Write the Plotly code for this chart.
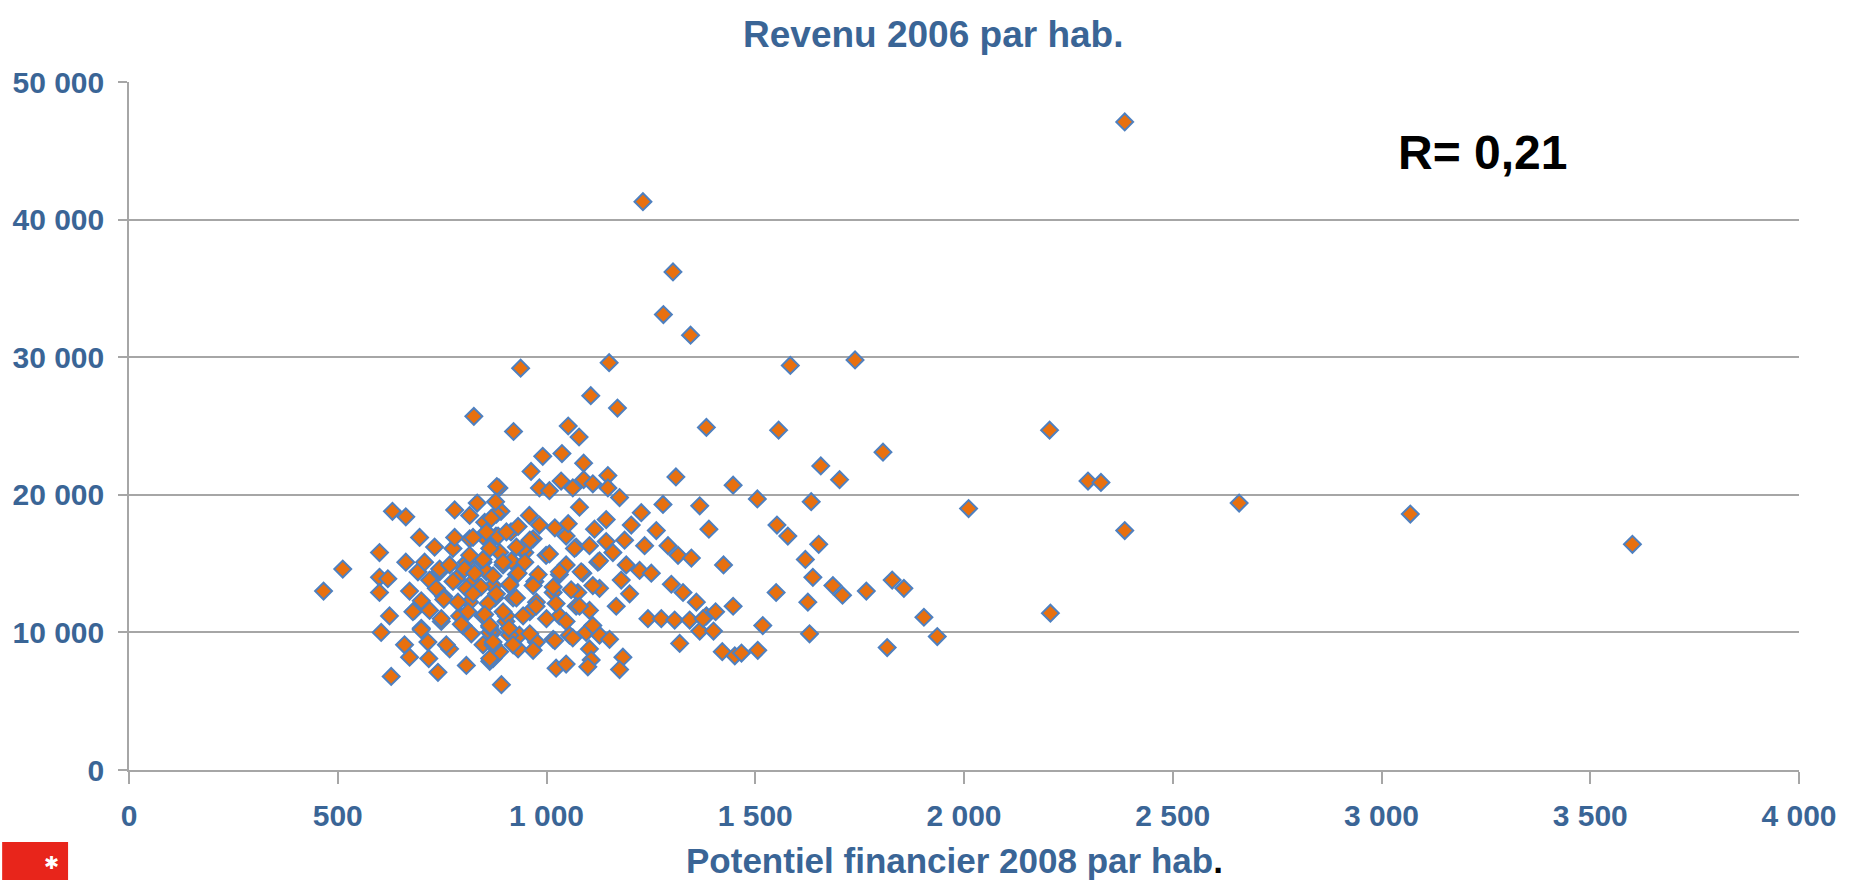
import plotly.graph_objects as go

# ---- data ----
potentiel_x = [
    2385, 1231, 1303, 1280, 1345, 938, 1150, 1106, 1170, 921, 1052, 1078, 1383, 991, 1037, 963, 1089, 1310,
    886, 983, 1007, 1035, 1063, 1089, 1111, 1147, 1147, 1175, 1279, 1367, 1389, 1079, 1227, 959, 1143, 1203,
    1263, 1020, 983, 1115, 1047, 891, 915, 879, 1187, 1235, 1291, 1071, 1103, 1143, 1315, 1347, 968, 948,
    999, 1047, 1123, 1191, 1223, 1251, 1179, 1199, 1127, 1087, 1031, 972, 928, 896, 872, 920, 976, 1016,
    1075, 1103, 1071, 1031, 1167, 1243, 1275, 1307, 1343, 1299, 1327, 1359, 1383, 1367, 1319, 872, 903, 935,
    976, 1016, 1055, 1095, 1127, 1151, 1103, 1023, 1047, 1107, 1183, 1175, 892, 872,
    826, 881, 631, 663, 780, 834, 696, 600, 512, 466, 663, 600, 620, 600, 672, 692, 732, 624, 604, 684,
    660, 672, 628, 718, 740, 808, 716, 768, 700, 748, 800, 754, 720, 744, 776, 816, 852, 880, 808, 848,
    888, 784, 824, 856, 876, 816, 792, 848, 864, 864, 848, 888,
    1584, 1739, 1556, 2205, 1806, 1657, 1702, 1447, 1505, 1634, 2011, 2297, 2328, 2385, 1552, 1578, 1652,
    1620, 1424, 1638, 1686, 1709, 1766, 1828, 1856, 1550, 1626, 1447, 1405, 1375, 1400, 1518, 1630, 1904,
    1936, 1816, 2207, 1421, 1451, 1467, 1506,
    2659, 3069, 3601,
    878, 816, 868, 780, 848, 824, 884, 816, 848, 916, 944, 708, 744, 768, 804, 828, 872, 912, 932, 736,
    776, 808, 843, 880, 700, 754, 788, 824, 860, 680, 720, 812, 852, 904, 960, 748, 796, 700, 760, 820,
    864, 912, 872, 932,
    856, 904, 932, 1052, 960, 928, 864, 1067, 1127, 1159, 896, 948, 1007, 1031, 1083, 980, 912, 968, 1016,
    1059, 1111, 928, 975, 1023, 1079, 896, 944, 1000, 1047, 1111, 864, 910, 960, 1020, 1063, 872, 920, 968,
    864, 1099,
]
revenu_y = [
    47100, 41300, 36200, 33100, 31600, 29200, 29600, 27200, 26300, 24600, 25000, 24200, 24900, 22800, 23000,
    21700, 22300, 21300, 20500, 20500, 20300, 21000, 20500, 21100, 20800, 21400, 20500, 19800, 19300, 19200,
    17500, 19100, 18700, 18500, 18200, 17800, 17400, 17600, 17800, 17500, 17000, 18800, 17300, 17000, 16700,
    16300, 16300, 16200, 16300, 16600, 15600, 15400, 16800, 15800, 15600, 14900, 15100, 14900, 14500, 14300,
    13800, 12800, 13200, 14300, 14200, 13700, 14200, 14900, 13400, 12500, 12200, 12900, 12900, 11600, 11900,
    11200, 11900, 11000, 11000, 10900, 10900, 13500, 12900, 12200, 11200, 10100, 9200, 10000, 10800, 9800,
    9300, 9500, 9800, 10000, 9800, 9500, 8800, 7400, 7700, 8000, 8200, 7300, 6200, 8100,
    25700, 20600, 18800, 18400, 18900, 19400, 16900, 15800, 14600, 13000, 15100, 14000, 13900, 12900, 13000,
    14400, 16200, 11200, 10000, 11600, 9100, 8200, 6800, 8100, 7100, 7600, 9300, 8800, 10300, 10800, 10500,
    12600, 13800, 14400, 16100, 16800, 18000, 18600, 15100, 15100, 15800, 13900, 13700, 14400, 12500, 12200,
    11200, 11200, 10000, 7900, 9100, 8600,
    29400, 29800, 24700, 24700, 23100, 22100, 21100, 20700, 19700, 19500, 19000, 21000, 20900, 17400, 17800,
    17000, 16400, 15300, 14900, 14000, 13400, 12700, 13000, 13800, 13200, 12900, 12200, 11900, 11500, 11000,
    10100, 10500, 9900, 11100, 9700, 8900, 11400, 8600, 8300, 8500, 8700,
    19400, 18600, 16400,
    19500, 18500, 18300, 16900, 17000, 16900, 17000, 15600, 15300, 15200, 16100, 15100, 14600, 14900, 14600,
    14300, 14100, 13400, 14300, 13200, 13700, 13200, 13300, 12800, 12300, 12400, 12200, 12800, 12100, 11500,
    11600, 11500, 11300, 11200, 11500, 11000, 10600, 10200, 9100, 9900, 10400, 9800, 9100, 8800,
    17300, 17300, 17700, 17900, 16700, 16200, 16100, 16100, 15200, 15800, 15100, 15100, 15700, 14400, 14400,
    14200, 13500, 13400, 13300, 13100, 13400, 12500, 11900, 12100, 11900, 11500, 11200, 11000, 10800, 10500,
    10500, 10300, 9900, 9400, 9600, 9300, 9100, 8700, 8100, 7500,
]
x_ticks = [0, 500, 1000, 1500, 2000, 2500, 3000, 3500, 4000]
y_ticks = [0, 10000, 20000, 30000, 40000, 50000]
title_text = "Revenu 2006 par hab."
x_title_text = "Potentiel financier 2008 par hab"
r_text = "R= 0,21"

# ---- layout geometry ----
W, H = 1852, 880
L, R, T, B = 127, 53, 82, 110
PW, PH = W - L - R, H - T - B


def px_x(px):
    return (px - L) / PW


def px_y(py):
    return (H - B - py) / PH


BLUE = "#3A6596"
GRID = "#A6A6A6"
FONT = "Liberation Sans, Arial, sans-serif"

fig = go.Figure()
fig.add_trace(go.Scatter(
    x=potentiel_x, y=revenu_y, mode="markers",
    marker=dict(symbol="diamond", size=13, color="#E8700F",
                line=dict(color="#4E80C0", width=2)),
    hoverinfo="x+y", showlegend=False,
))

fig.update_layout(
    width=W, height=H,
    margin=dict(l=L, r=R, t=T, b=B),
    paper_bgcolor="white", plot_bgcolor="white",
    separators=", ",
    font=dict(family=FONT),
    xaxis=dict(
        range=[0, 4000], tickvals=x_ticks, tickformat=",d",
        showgrid=False, zeroline=False,
        showline=True, linecolor=GRID, linewidth=2,
        ticks="outside", ticklen=12, tickcolor=GRID, tickwidth=1.5,
        tickfont=dict(family=FONT, size=30, color=BLUE, weight="bold"),
        ticklabelstandoff=6,
    ),
    yaxis=dict(
        range=[0, 50000], tickvals=y_ticks, tickformat=",d",
        showgrid=True, gridcolor=GRID, gridwidth=1.5, zeroline=False,
        showline=True, linecolor=GRID, linewidth=1.5,
        ticks="outside", ticklen=9, tickcolor=GRID, tickwidth=1.5,
        tickfont=dict(family=FONT, size=30, color=BLUE, weight="bold"),
        ticklabelstandoff=8,
    ),
)

fig.add_annotation(
    text=title_text, xref="paper", yref="paper",
    x=px_x(932), y=px_y(35), xanchor="center", yanchor="middle",
    showarrow=False, font=dict(family=FONT, size=37, color=BLUE, weight="bold"),
)
fig.add_annotation(
    text=x_title_text + "<span style='color:black'>.</span>", xref="paper", yref="paper",
    x=px_x(953), y=px_y(860), xanchor="center", yanchor="middle",
    showarrow=False, font=dict(family=FONT, size=35, color=BLUE, weight="bold"),
)
fig.add_annotation(
    text=r_text, xref="paper", yref="paper",
    x=px_x(1482), y=px_y(153), xanchor="center", yanchor="middle",
    showarrow=False, font=dict(family=FONT, size=48, color="black", weight="bold"),
)

# small red logo at bottom-left
fig.add_shape(
    type="rect", xref="paper", yref="paper",
    x0=px_x(0), x1=px_x(66), y0=px_y(880), y1=px_y(842),
    fillcolor="#E8251B", line=dict(width=0), layer="above",
)
fig.add_annotation(
    text="✱", xref="paper", yref="paper",
    x=px_x(49), y=px_y(862), xanchor="center", yanchor="middle",
    showarrow=False, font=dict(family="DejaVu Sans", size=18, color="white"),
)

fig.write_html(
    "out.html",
    config={"displayModeBar": False},
    post_script="document.body.style.margin='0';document.body.style.overflow='hidden';",
)
